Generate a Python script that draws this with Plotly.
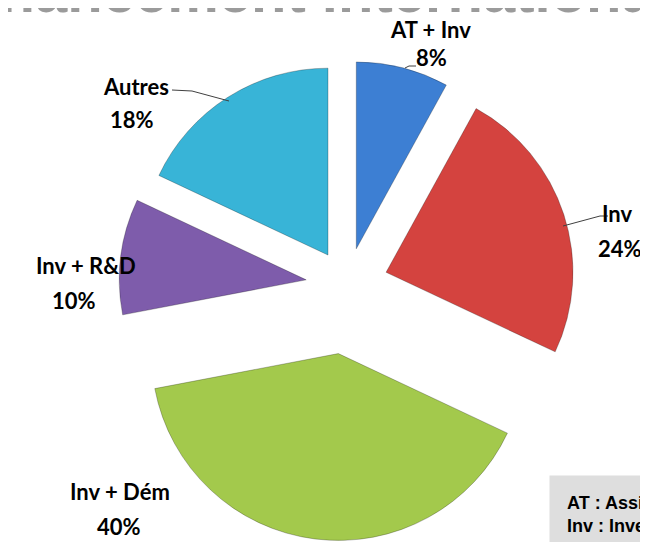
"""
Pie chart: financement international, split by type of support
"""
import plotly.graph_objects as go

W, H = 648, 542

# data
labels = ['AT + Inv', 'Inv', 'Inv + Dém', 'Inv + R&D', 'Autres']
values = [8, 24, 40, 10, 18]
pulls = [0.2, 0.22, 0.37, 0.22, 0.19]
colors = ['#3D7FD3', '#D4433F', '#A3C94C', '#7E5CAB', '#38B4D7']

# label placement (pixels, text centre) and leader lines
label_pos = {
    'AT + Inv': ((422, 21), (423, 49)),
    'Inv': ((609, 205), (612, 240)),
    'Inv + Dém': ((112, 483), (111, 518)),
    'Inv + R&D': ((78, 257), (66, 292)),
    'Autres': ((128, 78), (124, 111)),
}
leaders = [
    [(397, 60), (401, 58), (408, 58)],
    [(555, 218), (592, 208), (600, 208)],
    [(164, 82), (184, 83), (221, 93)],
]


def px(x):
    return x / W


def py(y):
    return 1 - y / H


fig = go.Figure(go.Pie(
    labels=labels,
    values=values,
    pull=pulls,
    sort=False,
    direction='clockwise',
    rotation=0,
    textinfo='none',
    hoverinfo='label+percent',
    marker=dict(colors=colors, line=dict(color='rgba(0,0,0,0.25)', width=1)),
    domain=dict(x=[px(83), px(595)], y=[py(533), py(21)]),
    showlegend=False,
))

annotations = []
for lab, v in zip(labels, values):
    (lx, ly), (vx, vy) = label_pos[lab]
    annotations.append(dict(x=px(lx), y=py(ly), text=lab, showarrow=False,
                            xanchor='center', yanchor='middle',
                            font=dict(family='Lato', size=22, color='black', weight='bold')))
    annotations.append(dict(x=px(vx), y=py(vy), text=f'{v}%', showarrow=False,
                            xanchor='center', yanchor='middle',
                            font=dict(family='Lato', size=22, color='black', weight='bold')))

# big clipped title at the top (drawn over the first label like in the original)
annotations.append(dict(x=px(-62), y=py(-16), text='Financement international', showarrow=False,
                        xanchor='left', yanchor='middle',
                        font=dict(family='Liberation Sans', size=58, color='#9B9B9B', weight='bold')))

# abbreviations box, bottom right (clipped by the page)
annotations.append(dict(x=px(541), y=py(467), xanchor='left', yanchor='top', align='left',
                        text='AT : Assistance technique<br>Inv : Investissement<br>Dém : Démonstration',
                        showarrow=False, bgcolor='#DEDEDE', borderpad=17,
                        font=dict(family='Liberation Sans', size=18, color='black', weight='bold')))

shapes = []
for pts in leaders:
    path = 'M ' + ' L '.join(f'{px(x)},{py(y)}' for x, y in pts)
    shapes.append(dict(type='path', xref='paper', yref='paper', path=path,
                       line=dict(color='#404040', width=1)))

fig.update_layout(
    width=W, height=H,
    margin=dict(l=0, r=0, t=0, b=0),
    paper_bgcolor='white',
    plot_bgcolor='white',
    annotations=annotations,
    shapes=shapes,
)

fig.write_html("out.html")
